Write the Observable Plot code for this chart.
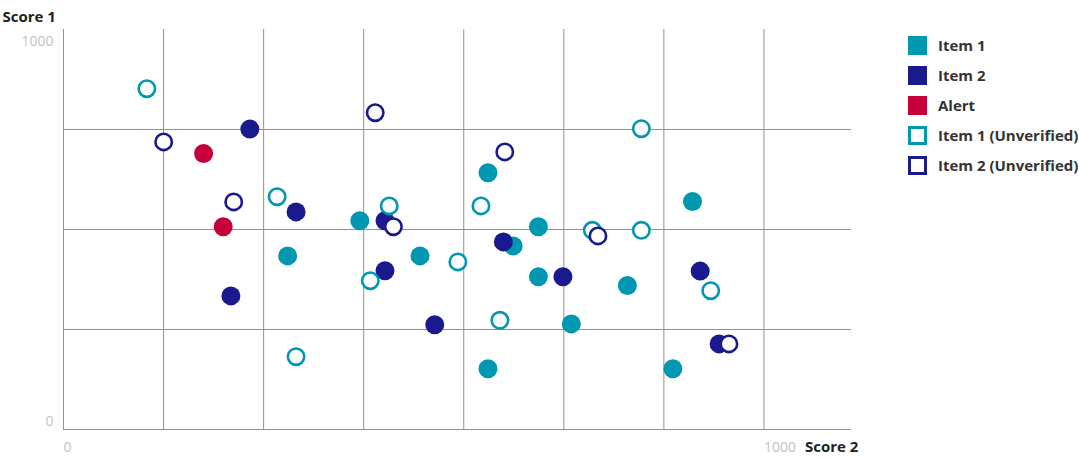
<!DOCTYPE html>
<html>
<head>
<meta charset="utf-8">
<script src="https://cdn.jsdelivr.net/npm/d3@7"></script>
<script src="https://cdn.jsdelivr.net/npm/@observablehq/plot@0.6"></script>
<style>
  body { margin: 0; background: #fff; font-family: "Open Sans", sans-serif; }
  #wrap { position: relative; width: 1079px; height: 460px; }
  #legend { position: absolute; left: 908px; top: 30px; }
  .li { display: flex; align-items: center; height: 30px; font-size: 15px; font-weight: 700; color: #333; white-space: nowrap; }
  .sw { width: 19px; height: 19px; box-sizing: border-box; margin-right: 11px; flex: none; }
</style>
</head>
<body>
<div id="wrap"><div id="legend"></div></div>
<script>
const seriesNames = ["Item 1", "Item 2", "Alert", "Item 1 (Unverified)", "Item 2 (Unverified)"];
const seriesColors = ["#0097b0", "#1a1a8e", "#c6003a", "#0097b0", "#1a1a8e"];
const seriesOpen = [false, false, false, true, true];

// [Score 2, Score 1]
const item1 = [[320,434],[606,642],[423,522],[678,507],[642,459],[509,434],[678,382],[725,264],[606,152],[898,570],[805,360],[870,152]];
const item2 = [[266,751],[332,544],[239,334],[459,522],[628,469],[459,397],[713,382],[530,262],[909,396],[936,214]];
const alert = [[200,690],[228,507]];
const item1U = [[119,852],[305,582],[332,182],[465,559],[596,559],[563,419],[438,372],[623,273],[825,752],[755,498],[825,498],[924,347]];
const item2U = [[143,719],[243,569],[445,792],[471,507],[630,694],[763,484],[950,214]];
const seriesData = [item1, item2, alert, item1U, item2U];

const xGrid = [1000/7, 2000/7, 3000/7, 4000/7, 5000/7, 6000/7, 1000];
const yGrid = [250, 500, 750];
const xLabels = [0, 1000];
const xTitle = "Score 2";
const yTitle = "Score 1";

const gridColor = "#919191";
const labelColor = "#c2c2c2";

const dotMarks = seriesData.map((data, i) => seriesOpen[i]
  ? Plot.dot(data, {x: d => d[0], y: d => d[1], r: 8.2, fill: "white", stroke: seriesColors[i], strokeWidth: 2.6})
  : Plot.dot(data, {x: d => d[0], y: d => d[1], r: 9.5, fill: seriesColors[i], stroke: "none"}));

const chart = Plot.plot({
  width: 1079,
  height: 460,
  marginTop: 29,
  marginBottom: 31,
  marginLeft: 63,
  marginRight: 228,
  style: {fontFamily: "Open Sans, sans-serif", background: "white"},
  x: {domain: [0, 1125], axis: null},
  y: {domain: [0, 1000], axis: null},
  marks: [
    Plot.ruleX(xGrid, {stroke: gridColor, strokeWidth: 1}),
    Plot.ruleY(yGrid, {stroke: gridColor, strokeWidth: 1}),
    Plot.ruleX([0], {stroke: gridColor, strokeWidth: 1}),
    Plot.ruleY([0], {stroke: gridColor, strokeWidth: 1}),
    Plot.text([1000], {y: d => d, frameAnchor: "left", text: d => String(d), textAnchor: "end", dx: -10, dy: 12, fill: labelColor, fontSize: 14, fontWeight: 400}),
    Plot.text([0], {y: d => d, frameAnchor: "left", text: d => String(d), textAnchor: "end", dx: -10, dy: -8, fill: labelColor, fontSize: 14, fontWeight: 400}),
    Plot.text(xLabels, {x: d => d, frameAnchor: "bottom", text: d => String(d), textAnchor: "start", dx: 0, dy: 22, fill: labelColor, fontSize: 14, fontWeight: 400}),
    Plot.text([xTitle], {x: 1000, frameAnchor: "bottom", text: d => d, textAnchor: "start", dx: 41, dy: 22, fill: "#222", fontSize: 15, fontWeight: 700}),
    Plot.text([yTitle], {x: 0, frameAnchor: "top", text: d => d, textAnchor: "start", dx: -61, dy: -18, fill: "#222", fontSize: 15, fontWeight: 700}),
    ...dotMarks
  ]
});
const wrap = document.getElementById("wrap");
wrap.insertBefore(chart, wrap.firstChild);

const legend = document.getElementById("legend");
seriesNames.forEach((name, i) => {
  const row = document.createElement("div");
  row.className = "li";
  const sw = document.createElement("div");
  sw.className = "sw";
  if (seriesOpen[i]) { sw.style.border = "3px solid " + seriesColors[i]; sw.style.background = "white"; }
  else sw.style.background = seriesColors[i];
  row.appendChild(sw);
  row.appendChild(document.createTextNode(name));
  legend.appendChild(row);
});
</script>
</body>
</html>
